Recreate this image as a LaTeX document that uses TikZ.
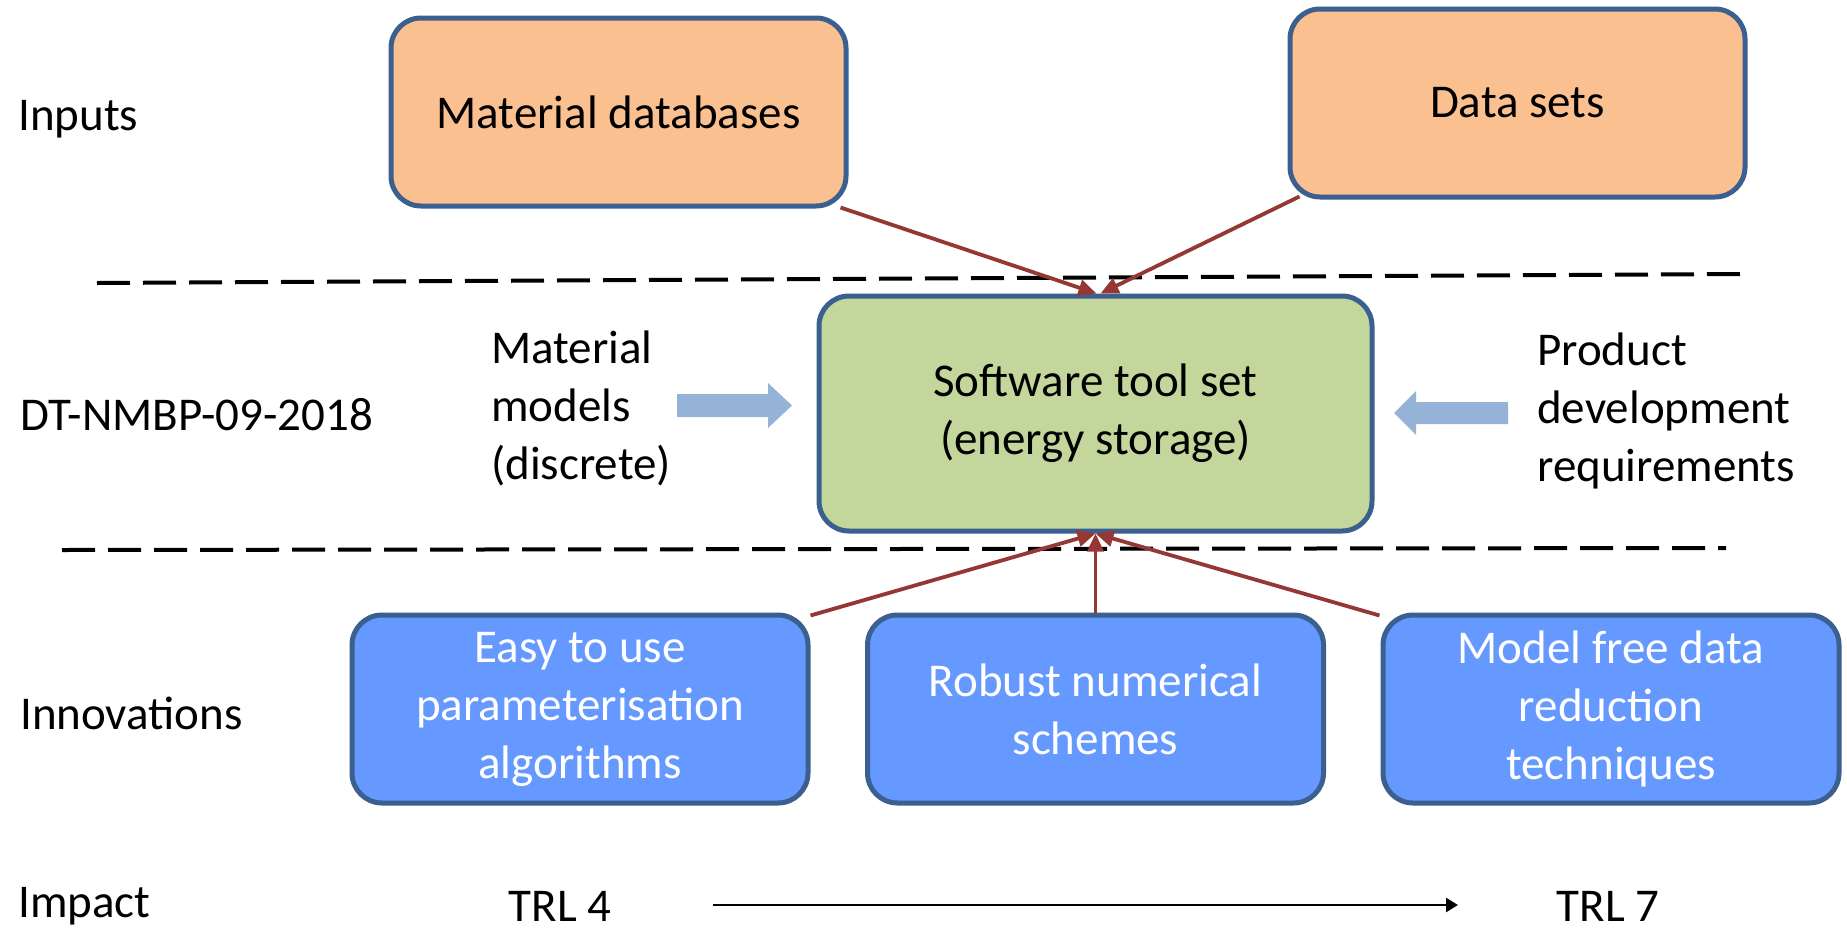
\documentclass[tikz,border=0pt]{standalone}
\usepackage{fontspec}
\setmainfont{Carlito}
\usetikzlibrary{arrows.meta,calc}
\definecolor{bordc}{HTML}{3B5F8F}
\definecolor{orangef}{HTML}{FAC090}
\definecolor{greenf}{HTML}{C3D69B}
\definecolor{bluef}{HTML}{6699FF}
\definecolor{redc}{HTML}{953735}
\definecolor{arrowf}{HTML}{95B3D7}
\begin{document}
\begin{tikzpicture}[x=1pt,y=-1pt,
  box/.style={draw=bordc,line width=5pt,rounded corners=30pt,inner sep=0pt,align=center,
    font=\fontsize{47}{58}\selectfont},
  inbox/.style={box,fill=orangef,minimum width=455pt,minimum height=188pt},
  innov/.style={box,fill=bluef,text=white,minimum width=456pt,minimum height=188pt},
  lbl/.style={anchor=west,inner sep=0pt,font=\fontsize{47}{58}\selectfont},
  side/.style={inner sep=0pt,align=left,font=\fontsize{47}{58}\selectfont},
  conn/.style={draw=redc,line width=3.8pt,-{Triangle[length=18pt,width=16pt]}},
  sep/.style={line width=4pt,dash pattern=on 33pt off 13pt},
  blockarrow/.style={fill=arrowf,draw=none}]
\useasboundingbox (0,0) rectangle (1847,929);

% section labels
\node[lbl] (linputs) at (18,119) {Inputs};
\node[lbl] (ldt) at (20,415) {DT-NMBP-09-2018};
\node[lbl] (linnov) at (20,713) {Innovations};
\node[lbl] (limpact) at (18,906) {Impact};

% dashed separators
\draw[sep] (97,283) -- (1752,274);
\draw[sep] (62,550) -- (1726,548);

% input boxes
\node[inbox] (md) at (618.5,112) {Material databases};
\node[inbox] (ds) at (1517.5,103) {Data sets};

% central box
\node[box,fill=greenf,minimum width=553pt,minimum height=235pt] (sw) at (1095.5,413.5)
  {Software tool set\\(energy storage)};

% innovation boxes
\node[innov] (i1) at (580,709) {Easy to use\\parameterisation\\algorithms};
\node[innov] (i2) at (1095.5,709) {Robust numerical\\schemes};
\node[innov] (i3) at (1611,709) {Model free data\\reduction\\techniques};

% side texts
\node[side,anchor=west] (mm) at (491,408) {Material\\models\\(discrete)};
\node[side,anchor=west] (pd) at (1537,411) {Product\\development\\requirements};

% block arrows
\draw[blockarrow] (677,394) -- (768,394) -- (768,383) -- (792,405.5) -- (768,428) -- (768,417) -- (677,417) -- cycle;
\draw[blockarrow] (1508,402) -- (1416,402) -- (1416,391) -- (1394,413) -- (1416,435) -- (1416,424) -- (1508,424) -- cycle;

% red connectors
\draw[conn] ($(md.south east)+(-8,-1)$) -- ($(sw.north)+(1,0)$);
\draw[conn] ($(ds.south west)+(12,-3)$) -- ($(sw.north)+(5,0)$);
\draw[conn] ($(i1.north east)+(0,3)$) -- (sw.south);
\draw[conn] (i2.north) -- (sw.south);
\draw[conn] ($(i3.north west)+(-1,3)$) -- (sw.south);

% impact row
\node[inner sep=0pt,font=\fontsize{47}{58}\selectfont] (trl4) at (560,906) {TRL 4};
\node[inner sep=0pt,font=\fontsize{47}{58}\selectfont] (trl7) at (1608,906) {TRL 7};
\coordinate (impstart) at (713,905);
\coordinate (impend) at (1458,905);
\draw[line width=2.5pt,-{Triangle[length=12pt,width=14pt]}] (impstart) -- (impend);
\end{tikzpicture}
\end{document}
